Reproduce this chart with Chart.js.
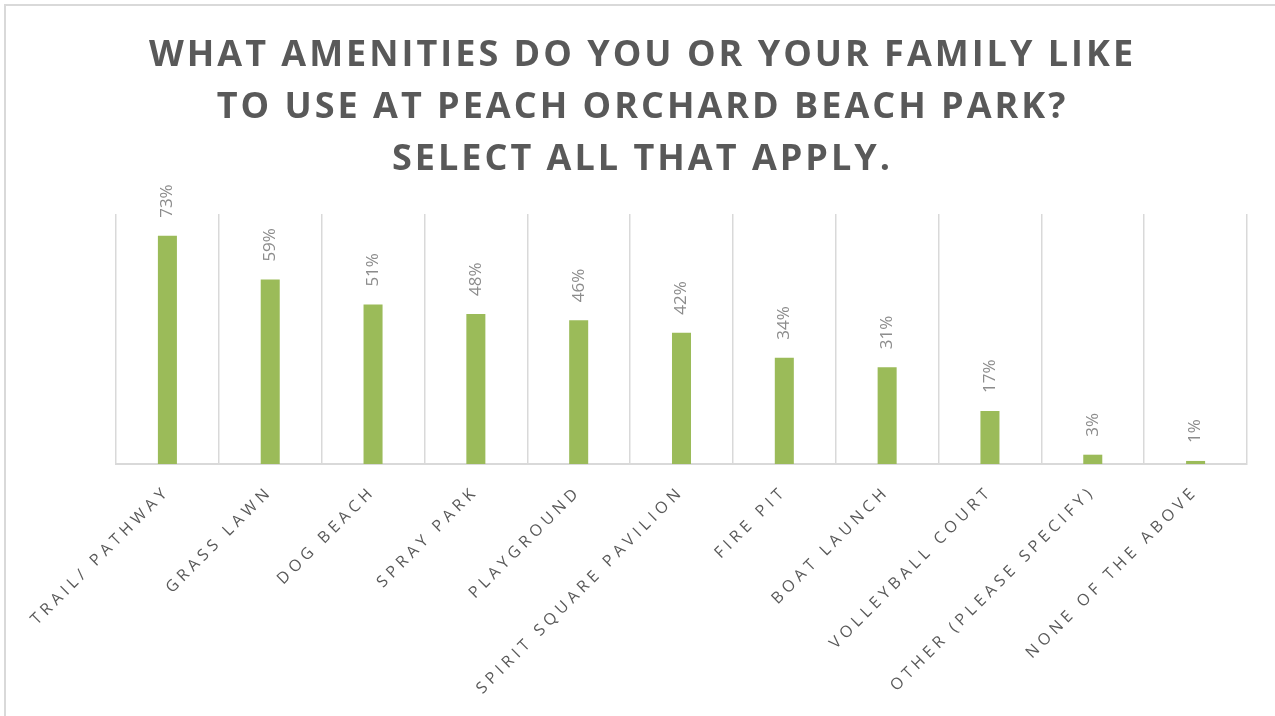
<!DOCTYPE html>
<html>
<head>
<meta charset="utf-8">
<script src="https://cdn.jsdelivr.net/npm/chart.js@4.4.1/dist/chart.umd.min.js"></script>
<style>
  html, body { margin: 0; padding: 0; background: #fff; }
  #wrap { position: absolute; left: 0; top: 0; width: 1275px; height: 716px; }
  #frame { position: absolute; left: 4px; top: 4px; width: 1280px; height: 720px;
           border-left: 2px solid #d9d9d9; border-top: 2px solid #d9d9d9; pointer-events: none; }
</style>
</head>
<body>
<div id="wrap"><canvas id="c" width="1275" height="716"></canvas></div>
<div id="frame"></div>
<script>
const categories = ["TRAIL/ PATHWAY", "GRASS LAWN", "DOG BEACH", "SPRAY PARK", "PLAYGROUND",
  "SPIRIT SQUARE PAVILION", "FIRE PIT", "BOAT LAUNCH", "VOLLEYBALL COURT",
  "OTHER (PLEASE SPECIFY)", "NONE OF THE ABOVE"];
const values = [73, 59, 51, 48, 46, 42, 34, 31, 17, 3, 1];
const titleLines = ["WHAT AMENITIES DO YOU OR YOUR FAMILY LIKE", "TO USE AT PEACH ORCHARD BEACH PARK?", "SELECT ALL THAT APPLY."];

const TICK_SPACING = '4.5px';
const TITLE_SPACING = '3px';

const spacingPlugin = {
  id: 'spacing',
  beforeLayout(chart) { chart.ctx.letterSpacing = TICK_SPACING; },
  beforeDraw(chart) { chart.ctx.letterSpacing = TITLE_SPACING; }
};

const labelPlugin = {
  id: 'barLabels',
  afterDatasetsDraw(chart) {
    const ctx = chart.ctx;
    const meta = chart.getDatasetMeta(0);
    ctx.save();
    ctx.letterSpacing = '0px';
    ctx.font = '17px "Open Sans"';
    ctx.fillStyle = '#8c8c8c';
    ctx.textAlign = 'left';
    ctx.textBaseline = 'middle';
    meta.data.forEach((bar, i) => {
      ctx.save();
      ctx.translate(bar.x, bar.y - 18);
      ctx.rotate(-Math.PI / 2);
      ctx.fillText(values[i] + '%', 0, 0);
      ctx.restore();
    });
    ctx.restore();
    // tick labels are drawn after this (ticks.z = 1)
    ctx.letterSpacing = TICK_SPACING;
  }
};

new Chart(document.getElementById('c'), {
  type: 'bar',
  data: {
    labels: categories,
    datasets: [{
      data: values,
      backgroundColor: '#9bbb59',
      barPercentage: 0.185,
      categoryPercentage: 1.0
    }]
  },
  options: {
    responsive: false,
    animation: false,
    layout: { padding: { left: 38, right: 28, top: 20, bottom: 0 } },
    plugins: {
      legend: { display: false },
      tooltip: { enabled: false },
      title: {
        display: true,
        text: titleLines,
        color: '#595959',
        font: { family: '"Open Sans"', size: 36, weight: 'bold', lineHeight: 1.444 },
        padding: { top: 10, bottom: 28 }
      }
    },
    scales: {
      x: {
        grid: { display: true, offset: true, color: '#d9d9d9', lineWidth: 1.5, drawTicks: false },
        border: { display: true, color: '#d9d9d9', width: 2 },
        ticks: {
          z: 1,
          color: '#595959',
          font: { family: '"Open Sans"', size: 16 },
          minRotation: 45, maxRotation: 45,
          autoSkip: false,
          padding: 18
        }
      },
      y: {
        display: true,
        min: 0, max: 80,
        grid: { display: false, drawTicks: false },
        border: { display: false },
        ticks: { display: false },
        afterFit(scale) { scale.width = 78; }
      }
    }
  },
  plugins: [spacingPlugin, labelPlugin]
});
</script>
</body>
</html>
